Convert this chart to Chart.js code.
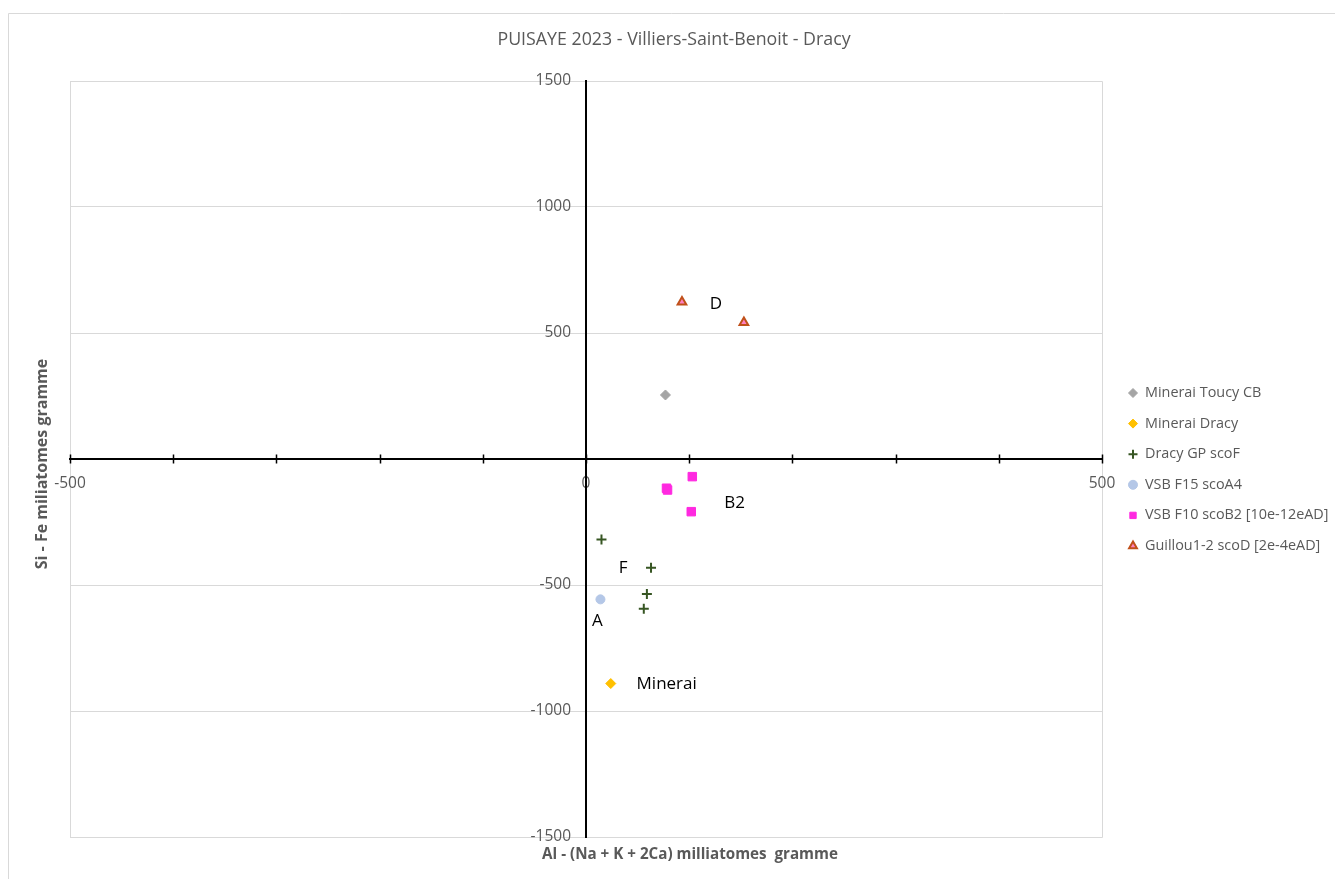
<!DOCTYPE html>
<html>
<head>
<meta charset="utf-8">
<script src="https://cdn.jsdelivr.net/npm/chart.js@4.4.1/dist/chart.umd.min.js"></script>
<style>
html,body{margin:0;padding:0;background:#fff;}
#wrap{width:1335px;height:879px;}
</style>
</head>
<body>
<div id="wrap"><canvas id="c" width="1335" height="879"></canvas></div>
<script>
// ---- data ----
const chartTitle = 'PUISAYE 2023 - Villiers-Saint-Benoit - Dracy';
const xTitle = 'Al - (Na + K + 2Ca) milliatomes  gramme';
const yTitle = 'Si - Fe miliatomes gramme';
const xLabelValues = [-500, 0, 500];
const yTickValues = [-1500, -1000, -500, 0, 500, 1000, 1500];
const yLabelValues = [-1500, -1000, -500, 500, 1000, 1500];

const seriesNames = ['Minerai Toucy CB', 'Minerai Dracy', 'Dracy GP scoF', 'VSB F15 scoA4', 'VSB F10 scoB2 [10e-12eAD]', 'Guillou1-2 scoD [2e-4eAD]'];
const toucyX = [77];   const toucyY = [254];
const dracyX = [24];   const dracyY = [-891];
const scoFX = [15, 63, 59, 56];      const scoFY = [-319, -432, -536, -594];
const scoA4X = [14];   const scoA4Y = [-557];
const scoB2X = [78, 79, 103, 102];   const scoB2Y = [-116, -123, -70, -209];
const scoDX = [93, 153];             const scoDY = [623, 542];

// text annotations (data units)
const noteText = ['D', 'B2', 'F', 'A', 'Minerai'];
const noteX = [126, 144, 36, 11, 49];
const noteY = [615, -175, -433, -643, -893];

function pts(xs, ys){ return xs.map((x,i)=>({x:x, y:ys[i]})); }

Chart.defaults.font.family = "'Open Sans', sans-serif";

const datasets = [
  {label: seriesNames[0], data: pts(toucyX, toucyY), pointStyle:'rectRot', radius:5, backgroundColor:'#a5a5a5', borderColor:'#a5a5a5', borderWidth:1},
  {label: seriesNames[1], data: pts(dracyX, dracyY), pointStyle:'rectRot', radius:5, backgroundColor:'#ffc000', borderColor:'#ffc000', borderWidth:1},
  {label: seriesNames[2], data: pts(scoFX, scoFY), pointStyle:'cross', radius:5, backgroundColor:'#375623', borderColor:'#375623', borderWidth:2},
  {label: seriesNames[3], data: pts(scoA4X, scoA4Y), pointStyle:'circle', radius:4.5, backgroundColor:'#b4c7e7', borderColor:'#b4c7e7', borderWidth:1},
  {label: seriesNames[4], data: pts(scoB2X, scoB2Y), pointStyle:'rect', radius:6, backgroundColor:'#ff29e0', borderColor:'#ff29e0', borderWidth:1},
  {label: seriesNames[5], data: pts(scoDX, scoDY), pointStyle:'triangle', radius:5, backgroundColor:'#ff80c0', borderColor:'#c0501a', borderWidth:2}
];

const extras = {
  id: 'extras',
  beforeDraw(chart){
    const {ctx, chartArea:a, width, height} = chart;
    ctx.save();
    ctx.fillStyle = '#fff';
    ctx.fillRect(0,0,width,height);
    ctx.strokeStyle = '#d9d9d9';
    ctx.lineWidth = 1;
    ctx.beginPath();
    ctx.moveTo(8.5, height); ctx.lineTo(8.5, 13.5); ctx.lineTo(width, 13.5);
    ctx.stroke();
    ctx.beginPath();
    ctx.rect(Math.round(a.left)+0.5, Math.round(a.top)+0.5, Math.round(a.width), Math.round(a.height));
    ctx.stroke();
    ctx.restore();
  },
  beforeDatasetsDraw(chart){
    const {ctx} = chart;
    const xs = chart.scales.x, ys = chart.scales.y;
    const y0 = ys.getPixelForValue(0);
    ctx.save();
    ctx.strokeStyle = '#000';
    ctx.lineWidth = 1.5;
    ctx.beginPath();
    xs.ticks.forEach(t => {
      const px = Math.round(xs.getPixelForValue(t.value))+0.5;
      ctx.moveTo(px, y0-4.5); ctx.lineTo(px, y0+4.5);
    });
    ctx.stroke();
    // y tick labels, right-aligned left of the vertical axis
    const x0 = xs.getPixelForValue(0);
    ctx.fillStyle = '#595959';
    ctx.font = "15.5px 'Open Sans', sans-serif";
    ctx.textAlign = 'right'; ctx.textBaseline = 'middle';
    ys.ticks.forEach(t => {
      if (yLabelValues.includes(t.value)) ctx.fillText(String(t.value), x0 - 15, ys.getPixelForValue(t.value));
    });
    ctx.restore();
  },
  afterDraw(chart){
    const {ctx, chartArea:a} = chart;
    const xs = chart.scales.x, ys = chart.scales.y;
    ctx.save();
    // title
    ctx.fillStyle = '#595959';
    ctx.font = "17.8px 'Open Sans', sans-serif";
    ctx.textAlign = 'center'; ctx.textBaseline = 'middle';
    ctx.fillText(chartTitle, 674, 40);
    // axis titles
    ctx.font = "bold 15.2px 'Open Sans', sans-serif";
    ctx.fillText(xTitle, 690, 855);
    ctx.save();
    ctx.translate(42, 464);
    ctx.rotate(-Math.PI/2);
    ctx.font = "bold 16px 'Open Sans', sans-serif";
    ctx.fillText(yTitle, 0, 0);
    ctx.restore();
    // annotations
    ctx.fillStyle = '#000';
    ctx.font = "17px 'Open Sans', sans-serif";
    noteText.forEach((t,i) => {
      const px = xs.getPixelForValue(noteX[i]);
      const py = ys.getPixelForValue(noteY[i]);
      ctx.textAlign = (t === 'Minerai') ? 'left' : 'center';
      ctx.fillText(t, px, py);
    });
    // legend
    ctx.font = "14.4px 'Open Sans', sans-serif";
    ctx.textAlign = 'left';
    ctx.fillStyle = '#595959';
    const lx = a.right + 31, ly0 = 393, step = 30.6;
    chart.data.datasets.forEach((ds,i) => {
      const y = ly0 + i*step;
      ctx.save();
      ctx.fillStyle = ds.backgroundColor;
      ctx.strokeStyle = ds.borderColor;
      ctx.lineWidth = ds.borderWidth;
      Chart.helpers.drawPoint(ctx, {pointStyle: ds.pointStyle, rotation:0, radius: Math.min(ds.radius, 4.5), borderWidth: ds.borderWidth}, lx, y);
      ctx.restore();
      ctx.fillText(ds.label, lx + 12, y);
    });
    ctx.restore();
  }
};

new Chart(document.getElementById('c'), {
  type: 'scatter',
  data: {datasets},
  plugins: [extras],
  options: {
    responsive: false,
    animation: false,
    devicePixelRatio: 1,
    layout: {padding: {left: 70, top: 81, right: 233, bottom: 42}},
    plugins: {legend: {display:false}, title: {display:false}, tooltip: {enabled:false}},
    scales: {
      x: {
        type: 'linear', position: {y: 0}, min: -500, max: 500,
        afterBuildTicks: s => { const v=[]; for (let k=s.min; k<=s.max; k+=100) v.push({value:k}); s.ticks = v; },
        ticks: {autoSkip:false, maxRotation:0, color:'#595959', font:{size:15.5}, padding:7,
          callback: v => xLabelValues.includes(v) ? String(v) : ''},
        grid: {display:false},
        border: {display:true, color:'#000', width:2}
      },
      y: {
        type: 'linear', position: {x: 0}, min: -1500, max: 1500,
        afterBuildTicks: s => { s.ticks = yTickValues.map(v => ({value:v})); },
        ticks: {display:false},
        grid: {color:'#d9d9d9', drawTicks:false, lineWidth:1},
        border: {display:true, color:'#000', width:2}
      }
    }
  }
});
</script>
</body>
</html>
